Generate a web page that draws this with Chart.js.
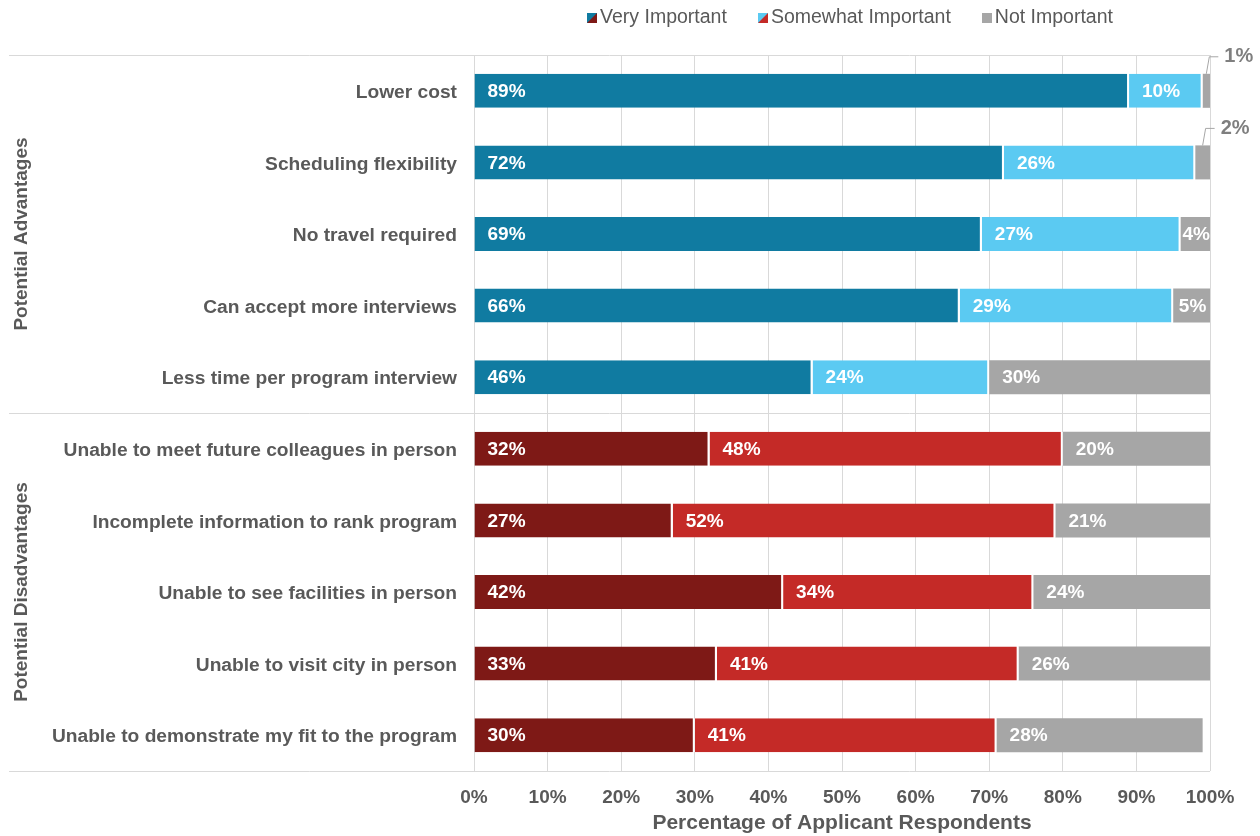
<!DOCTYPE html>
<html>
<head>
<meta charset="utf-8">
<script src="https://cdn.jsdelivr.net/npm/chart.js@4/dist/chart.umd.min.js"></script>
<style>
  html, body { margin: 0; padding: 0; background: #fff; }
  #wrap { width: 1260px; height: 836px; }
</style>
</head>
<body>
<div id="wrap"><canvas id="chart" width="1260" height="836"></canvas></div>
<script>
const categories = [
  "Lower cost",
  "Scheduling flexibility",
  "No travel required",
  "Can accept more interviews",
  "Less time per program interview",
  "Unable to meet future colleagues in person",
  "Incomplete information to rank program",
  "Unable to see facilities in person",
  "Unable to visit city in person",
  "Unable to demonstrate my fit to the program"
];
const groupNames = ["Potential Advantages", "Potential Disadvantages"];
const groupSize = 5;

const veryImportant     = [89, 72, 69, 66, 46, 32, 27, 42, 33, 30];
const somewhatImportant = [10, 26, 27, 29, 24, 48, 52, 34, 41, 41];
const notImportant      = [ 1,  2,  4,  5, 30, 20, 21, 24, 26, 28];

const seriesNames = ["Very Important", "Somewhat Important", "Not Important"];

const FONT = '"Liberation Sans", Arial, sans-serif';
const TEXT = "#595959";
const GRID = "#D9D9D9";

const BLUE = "#107BA1", LIGHT_BLUE = "#5BCAF2", GREY = "#A6A6A6";
const DARK_RED = "#7E1916", RED = "#C42A27";

const byGroup = (adv, dis) => categories.map((_, i) => i < groupSize ? adv : dis);

// split-colour swatch used for the legend
function swatch(c1, c2) {
  const s = 10;
  const cv = document.createElement("canvas");
  cv.width = s; cv.height = s;
  const g = cv.getContext("2d");
  g.fillStyle = c2; g.fillRect(0, 0, s, s);
  g.fillStyle = c1;
  g.beginPath(); g.moveTo(0, 0); g.lineTo(s, 0); g.lineTo(0, s); g.closePath(); g.fill();
  return cv;
}
const swatches = [swatch(BLUE, DARK_RED), swatch(LIGHT_BLUE, RED), swatch(GREY, GREY)];

const segLabels = {
  id: "segLabels",
  afterDatasetsDraw(chart) {
    const ctx = chart.ctx;
    ctx.save();
    ctx.font = "bold 19px " + FONT;
    ctx.textBaseline = "middle";
    chart.data.datasets.forEach((ds, di) => {
      const meta = chart.getDatasetMeta(di);
      meta.data.forEach((bar, i) => {
        const v = ds.data[i];
        const txt = v + "%";
        const left = Math.min(bar.x, bar.base);
        const right = Math.max(bar.x, bar.base);
        const w = ctx.measureText(txt).width;
        if (v < 3) {
          // small slice: label sits outside with a leader line
          const mid = (left + right) / 2;
          const top = bar.y - bar.height / 2;
          const ly = top - 17;
          ctx.strokeStyle = GREY;
          ctx.lineWidth = 1;
          ctx.beginPath();
          ctx.moveTo(mid, top);
          ctx.lineTo(mid + 3, ly);
          ctx.lineTo(mid + 12, ly);
          ctx.stroke();
          ctx.fillStyle = "#7F7F7F";
          ctx.font = "bold 20px " + FONT;
          ctx.textAlign = "left";
          ctx.fillText(txt, mid + 18, ly);
          ctx.font = "bold 19px " + FONT;
        } else if (w + 26 > right - left) {
          ctx.fillStyle = "#fff";
          ctx.textAlign = "center";
          ctx.fillText(txt, (left + right) / 2 + 1, bar.y + 1);
        } else {
          ctx.fillStyle = "#fff";
          ctx.textAlign = "left";
          ctx.fillText(txt, left + 13, bar.y + 1);
        }
      });
    });
    ctx.restore();
  }
};

const frame = {
  id: "frame",
  beforeDatasetsDraw(chart) {
    const { ctx, chartArea } = chart;
    const y = chart.scales.y;
    const sep = (y.getPixelForValue(groupSize - 1) + y.getPixelForValue(groupSize)) / 2;
    ctx.save();
    ctx.strokeStyle = GRID;
    ctx.lineWidth = 1;
    [chartArea.top, sep, chartArea.bottom].forEach(py => {
      ctx.beginPath();
      ctx.moveTo(9, Math.round(py) + 0.5);
      ctx.lineTo(chartArea.right, Math.round(py) + 0.5);
      ctx.stroke();
    });
    ctx.restore();
  },
  afterDraw(chart) {
    const { ctx, chartArea } = chart;
    const y = chart.scales.y;
    ctx.save();
    // group titles down the left side
    ctx.font = "bold 19px " + FONT;
    ctx.fillStyle = TEXT;
    ctx.textAlign = "center";
    ctx.textBaseline = "middle";
    const sep = (y.getPixelForValue(groupSize - 1) + y.getPixelForValue(groupSize)) / 2;
    [[chartArea.top, sep], [sep, chartArea.bottom]].forEach(([a, b], gi) => {
      ctx.save();
      ctx.translate(22, (a + b) / 2);
      ctx.rotate(-Math.PI / 2);
      ctx.fillText(groupNames[gi], 0, 0);
      ctx.restore();
    });

    // legend
    ctx.font = "19.5px " + FONT;
    ctx.textAlign = "left";
    const gap = 31, box = 10, boxGap = 3;
    const widths = seriesNames.map(n => box + boxGap + ctx.measureText(n).width);
    const total = widths.reduce((s, w) => s + w, 0) + gap * (seriesNames.length - 1);
    let x = (chartArea.left + chartArea.right) / 2 + 8 - total / 2;
    seriesNames.forEach((n, i) => {
      ctx.drawImage(swatches[i], Math.round(x), 13);
      ctx.fillText(n, x + box + boxGap, 18);
      x += widths[i] + gap;
    });
    ctx.restore();
  }
};

new Chart(document.getElementById("chart"), {
  type: "bar",
  data: {
    labels: categories,
    datasets: [
      {
        label: seriesNames[0],
        data: veryImportant,
        backgroundColor: byGroup(BLUE, DARK_RED),
        borderColor: "#fff",
        borderWidth: { top: 0, bottom: 0, left: 0, right: 2 },
        borderSkipped: false
      },
      {
        label: seriesNames[1],
        data: somewhatImportant,
        backgroundColor: byGroup(LIGHT_BLUE, RED),
        borderColor: "#fff",
        borderWidth: { top: 0, bottom: 0, left: 0, right: 2 },
        borderSkipped: false
      },
      {
        label: seriesNames[2],
        data: notImportant,
        backgroundColor: GREY,
        borderWidth: 0
      }
    ]
  },
  options: {
    indexAxis: "y",
    responsive: false,
    animation: false,
    categoryPercentage: 1,
    barPercentage: 0.475,
    layout: { padding: { top: 55, right: 50, left: 0, bottom: 0 } },
    plugins: {
      legend: { display: false },
      tooltip: { enabled: false }
    },
    scales: {
      x: {
        stacked: true,
        min: 0,
        max: 100,
        ticks: {
          stepSize: 10,
          padding: 15,
          color: TEXT,
          font: { family: FONT, size: 19, weight: "bold" },
          callback: v => v + "%"
        },
        grid: { color: GRID, drawTicks: false },
        border: { display: false },
        title: {
          display: true,
          text: "Percentage of Applicant Respondents",
          color: TEXT,
          font: { family: FONT, size: 21, weight: "bold" },
          padding: { top: 0, bottom: 0 }
        },
        afterFit: s => { s.height = 65; }
      },
      y: {
        stacked: true,
        ticks: {
          padding: 9,
          labelOffset: 2,
          color: TEXT,
          font: { family: FONT, size: 19.2, weight: "bold" }
        },
        grid: { display: false },
        border: { display: true, color: GRID },
        afterFit: s => { s.width = 474; }
      }
    }
  },
  plugins: [frame, segLabels]
});
</script>
</body>
</html>
